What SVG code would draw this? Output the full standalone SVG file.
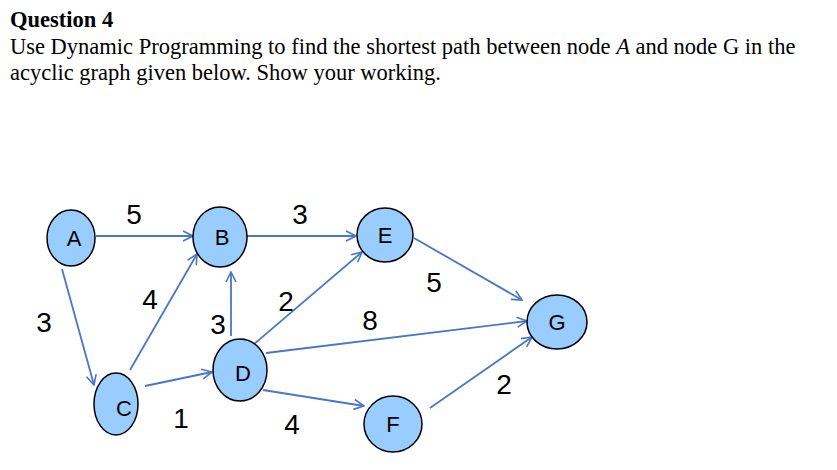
<svg xmlns="http://www.w3.org/2000/svg" width="837" height="470" viewBox="0 0 837 470">
<style>
.h{font-family:"Liberation Serif",serif;font-size:22.5px;fill:#000}
.n{fill:#99ccff;stroke:#000;stroke-width:1.5}
.nt{font-family:"Liberation Sans",sans-serif;font-size:22px;text-anchor:middle;fill:#000}
.w{font-family:"Liberation Sans",sans-serif;font-size:28px;text-anchor:middle;fill:#000}
.e{stroke:#4a76c8;stroke-width:1.8;fill:none;marker-end:url(#ar)}
</style>
<defs><marker id="ar" viewBox="0 0 12 12" refX="11" refY="6" markerWidth="12" markerHeight="12" markerUnits="userSpaceOnUse" orient="auto"><path d="M1,1 L11,6 L1,11" fill="none" stroke="#4a76c8" stroke-width="1.6"/></marker></defs>
<rect width="837" height="470" fill="#fff"/>
<text class="h" x="10" y="27" font-weight="bold" font-size="21">Question 4</text>
<text class="h" x="10" y="54">Use Dynamic Programming to find the shortest path between node <tspan font-style="italic">A</tspan> and node G in the</text>
<text class="h" x="10" y="80">acyclic graph given below. Show your working.</text>
<g id="edges">
<line class="e" x1="96" y1="236" x2="193" y2="236"/>
<line class="e" x1="62" y1="269" x2="94" y2="385"/>
<line class="e" x1="130" y1="370" x2="197" y2="254"/>
<line class="e" x1="231" y1="336" x2="231" y2="272"/>
<line class="e" x1="145" y1="386" x2="212" y2="372"/>
<line class="e" x1="246" y1="351" x2="362" y2="252"/>
<line class="e" x1="266" y1="353" x2="527" y2="321"/>
<line class="e" x1="263" y1="390" x2="364" y2="406"/>
<line class="e" x1="247" y1="236" x2="356" y2="236"/>
<line class="e" x1="414" y1="238" x2="522" y2="300"/>
<line class="e" x1="430" y1="408" x2="532" y2="337"/>
</g>
<g id="labels">
<text class="w" x="134" y="224">5</text>
<text class="w" x="300" y="224">3</text>
<text class="w" x="44" y="332">3</text>
<text class="w" x="150" y="309">4</text>
<text class="w" x="218" y="334">3</text>
<text class="w" x="286" y="311">2</text>
<text class="w" x="370" y="330">8</text>
<text class="w" x="434" y="292">5</text>
<text class="w" x="504" y="394">2</text>
<text class="w" x="181" y="428">1</text>
<text class="w" x="292" y="434">4</text>
</g>
<g id="A"><ellipse class="n" cx="71" cy="238" rx="24" ry="28"/><text class="nt" x="74" y="246">A</text></g>
<g id="B"><ellipse class="n" cx="220" cy="237" rx="27" ry="30"/><text class="nt" x="222" y="245">B</text></g>
<g id="C"><ellipse class="n" cx="116" cy="404" rx="22" ry="31"/><text class="nt" x="124" y="416">C</text></g>
<g id="D"><ellipse class="n" cx="240" cy="370" rx="27" ry="31"/><text class="nt" x="243" y="381">D</text></g>
<g id="E"><ellipse class="n" cx="385" cy="235" rx="28" ry="27"/><text class="nt" x="385" y="243">E</text></g>
<g id="G"><ellipse class="n" cx="557" cy="322" rx="30" ry="27"/><text class="nt" x="557" y="330">G</text></g>
<g id="F"><ellipse class="n" cx="393" cy="424" rx="29" ry="28"/><text class="nt" x="393" y="432">F</text></g>
</svg>
